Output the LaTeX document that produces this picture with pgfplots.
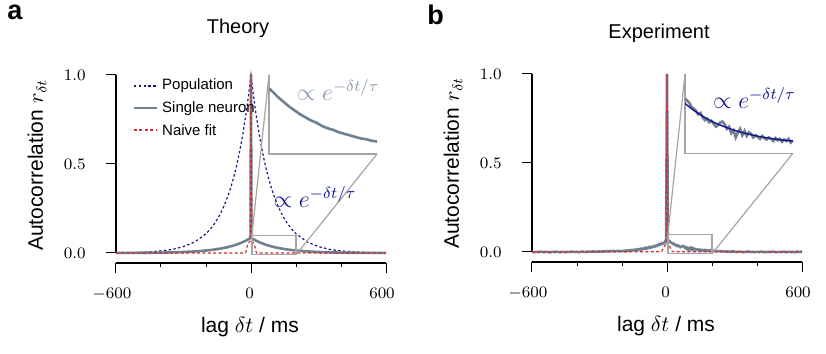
\documentclass[border=0pt]{standalone}
\usepackage{fontspec}
\setmainfont{Liberation Sans}
\usepackage{pgfplots}
\pgfplotsset{compat=1.18}
\usepackage{pgfplotstable}

\definecolor{popblue}{RGB}{20,20,140}
\definecolor{slate}{RGB}{112,128,144}
\definecolor{naivered}{RGB}{210,45,45}
\definecolor{boxgray}{RGB}{165,165,165}
\definecolor{lightslate}{RGB}{140,155,175}

% ---------- Panel a: theory ----------
\pgfplotstableread{
t v
-600 0.0013
-550 0.0022
-500 0.0039
-450 0.0067
-400 0.012
-350 0.020
-300 0.036
-250 0.062
-200 0.108
-180 0.135
-160 0.169
-140 0.211
-120 0.264
-100 0.329
-90 0.368
-80 0.411
-70 0.459
-60 0.513
-50 0.574
-40 0.641
-30 0.717
-20 0.801
-10 0.895
0 1.000
10 0.895
20 0.801
30 0.717
40 0.641
50 0.574
60 0.513
70 0.459
80 0.411
90 0.368
100 0.329
120 0.264
140 0.211
160 0.169
180 0.135
200 0.108
250 0.062
300 0.036
350 0.020
400 0.012
450 0.0067
500 0.0039
550 0.0022
600 0.0013
}\popA

\pgfplotstableread{
t v
-600 0.0004
-550 0.0006
-500 0.0009
-450 0.0014
-400 0.0022
-350 0.0035
-300 0.0056
-250 0.0088
-200 0.014
-190 0.015
-180 0.017
-170 0.018
-160 0.020
-150 0.022
-140 0.024
-130 0.026
-120 0.029
-110 0.031
-100 0.034
-90 0.038
-80 0.041
-70 0.045
-60 0.049
-50 0.054
-40 0.059
-30 0.065
-20 0.071
-10 0.078
-2 0.085
0 1.000
2 0.085
4 0.082
10 0.078
20 0.071
30 0.065
40 0.059
50 0.054
60 0.049
70 0.045
80 0.041
90 0.038
100 0.034
110 0.031
120 0.029
130 0.026
140 0.024
150 0.022
160 0.020
170 0.018
180 0.017
190 0.015
200 0.014
250 0.0088
300 0.0056
350 0.0035
400 0.0022
450 0.0014
500 0.0009
550 0.0006
600 0.0004
}\singA

\pgfplotstableread{
t v
-600 0
-24 0
-14 0.055
-4 0.065
0 1.000
4 0.065
14 0.055
24 0
600 0
}\naiveA

% ---------- Panel b: experiment ----------
\pgfplotstableread{
t v
-600 0.002
-590 -0.001
-580 0.001
-570 0.000
-560 0.002
-550 -0.001
-540 0.001
-530 0.000
-520 -0.002
-510 0.001
-500 0.000
-490 0.002
-480 -0.001
-470 0.000
-460 0.001
-450 -0.001
-440 0.001
-430 0.000
-420 0.002
-410 0.000
-400 0.001
-390 -0.001
-380 0.002
-370 0.001
-360 0.000
-350 0.002
-340 0.001
-330 0.003
-320 0.001
-310 0.002
-300 0.003
-290 0.002
-280 0.004
-270 0.003
-260 0.005
-250 0.004
-240 0.006
-230 0.004
-220 0.006
-210 0.005
-200 0.005
-196 0.006
-192 0.004
-188 0.007
-184 0.005
-180 0.008
-176 0.006
-172 0.009
-168 0.007
-164 0.010
-160 0.008
-156 0.011
-152 0.009
-148 0.012
-144 0.010
-140 0.013
-136 0.011
-132 0.015
-128 0.012
-124 0.016
-120 0.014
-116 0.018
-112 0.015
-108 0.019
-104 0.017
-100 0.021
-96 0.018
-92 0.024
-88 0.020
-84 0.022
-80 0.027
-76 0.024
-72 0.029
-68 0.026
-64 0.028
-60 0.033
-56 0.030
-52 0.032
-48 0.037
-44 0.034
-40 0.038
-36 0.044
-32 0.040
-28 0.043
-24 0.049
-20 0.046
-16 0.050
-12 0.052
-8 0.060
-4 0.057
0 1.000
4 0.066
8 0.063
12 0.060
16 0.054
20 0.052
24 0.049
28 0.044
32 0.046
36 0.040
40 0.036
44 0.038
48 0.033
52 0.035
56 0.031
60 0.027
64 0.029
68 0.033
72 0.034
76 0.030
80 0.024
84 0.027
88 0.018
92 0.022
96 0.012
100 0.019
104 0.024
108 0.015
112 0.021
116 0.014
120 0.019
124 0.017
128 0.012
132 0.015
136 0.013
140 0.010
144 0.014
148 0.011
152 0.009
156 0.012
160 0.010
164 0.007
168 0.011
172 0.008
176 0.010
180 0.006
184 0.009
188 0.007
192 0.010
196 0.005
200 0.008
210 0.006
220 0.004
230 0.005
240 0.003
250 0.004
260 0.002
270 0.003
280 0.001
290 0.003
300 0.002
310 0.000
320 0.002
330 0.001
340 -0.001
350 0.001
360 0.002
370 0.000
380 0.001
390 -0.001
400 0.001
410 0.000
420 0.002
430 0.000
440 -0.001
450 0.001
460 0.000
470 0.002
480 0.000
490 -0.001
500 0.001
510 0.000
520 0.002
530 -0.001
540 0.001
550 0.000
560 0.001
570 -0.001
580 0.002
590 0.000
600 0.003
}\singB

\pgfplotstableread{
t v
-600 0
-24 0.002
-12 0.030
-4 0.050
0 1.000
4 0.050
12 0.030
24 0.002
600 0
}\naiveB

\pgfplotstableread{
t v
4 0.0593
20 0.0497
40 0.0397
60 0.0318
80 0.0255
100 0.0204
120 0.0164
140 0.0131
160 0.0105
180 0.0084
200 0.0067
}\fitB

\newcommand{\ticksize}{\fontsize{8.4}{10}\selectfont}
\tikzset{
  spines/.style={line width=0.65pt, black},
  zoomline/.style={boxgray, line width=0.6pt},
  popstyle/.style={popblue, line width=0.6pt, dash pattern=on 1.2pt off 1.2pt},
  singstyle/.style={slate, line width=1.3pt},
  naivestyle/.style={naivered, line width=0.6pt, dash pattern=on 1.5pt off 1.2pt},
  ylab/.style={anchor=east, inner sep=0pt, font=\ticksize, xshift=-15pt},
  xlab/.style={anchor=north, inner sep=0pt, font=\ticksize, yshift=-12.3pt},
}
\pgfplotsset{
  panel/.style={
    scale only axis, width=135pt, height=94pt,
    xmin=-600, xmax=600, ymin=-0.0562, ymax=1,
    axis lines=left, axis line style={draw=none},
    tick align=outside,
    xtick={-600,0,600}, minor xtick={-400,-200,200,400},
    ytick={0,0.5,1},
    xticklabels={}, yticklabels={},
    major tick length=5pt, minor tick length=2.2pt,
    every tick/.append style={black, line width=0.5pt},
    every minor tick/.append style={black, line width=0.5pt},
    clip=false,
  },
  inset/.style={
    scale only axis, width=54pt, height=39.5pt,
    xmin=4, xmax=200, ymin=-0.01, ymax=0.1, hide axis,
  },
}

\begin{document}
\begin{tikzpicture}
\useasboundingbox (-58pt,-45.5pt) rectangle (355pt,131.5pt);

% ================= Panel a =================
\begin{axis}[panel, at={(0pt,0pt)}, anchor=south west]
\draw[spines] (axis cs:-600,0) -- (axis cs:-600,1);
\draw[spines] (rel axis cs:0,0) -- (rel axis cs:1,0);
\addplot[popstyle] table {\popA};
\addplot[singstyle] table {\singA};
\addplot[naivestyle] table {\naiveA};
\draw[zoomline] (axis cs:4,-0.01) rectangle (axis cs:200,0.1);
\draw[zoomline] (axis cs:4,0.1) -- (axis cs:80,1);
\draw[zoomline] (axis cs:200,-0.01) -- (axis cs:560,0.556);
\draw[zoomline] (axis cs:80,1) -- (axis cs:80,0.556) -- (axis cs:560,0.556);
\node[text=popblue, font=\fontsize{12}{12}\selectfont] at (axis cs:284,0.315) {$\propto e^{-\delta t/\tau}$};
\node[text=lightslate, font=\fontsize{12}{12}\selectfont] at (axis cs:387,0.915) {$\propto e^{-\delta t/\tau}$};
% tick labels
\node[ylab] at (axis cs:-600,0) {$0.0$};
\node[ylab] at (axis cs:-600,0.5) {$0.5$};
\node[ylab] at (axis cs:-600,1) {$1.0$};
\node[xlab, xshift=-2pt] at (rel axis cs:0,0) {$-600$};
\node[xlab, xshift=-0.7pt] at (rel axis cs:0.5,0) {$0$};
\node[xlab, xshift=-2pt] at (rel axis cs:1,0) {$600$};
\coordinate (Ains) at (axis cs:80,0.556);
\end{axis}
\begin{axis}[inset, ymin=-0.002, ymax=0.099, at={(Ains)}, anchor=south west]
\addplot[singstyle, restrict x to domain=4:200] table {\singA};
\end{axis}

% legend of panel a
\draw[popstyle, line width=0.7pt] (9pt,88.5pt) -- (20.4pt,88.5pt);
\draw[singstyle] (9pt,77.4pt) -- (20.4pt,77.4pt);
\draw[naivestyle, line width=0.7pt] (9pt,66.5pt) -- (20.4pt,66.5pt);
\begin{scope}[every node/.style={anchor=west, inner sep=0pt, font=\fontsize{7.5}{9}\selectfont}]
\node at (22.9pt,88.5pt) {Population};
\node at (22.9pt,77.4pt) {Single neuron};
\node at (22.9pt,66.5pt) {Naive fit};
\end{scope}

% ================= Panel b =================
\begin{axis}[panel, at={(208pt,0.5pt)}, anchor=south west]
\draw[spines] (axis cs:-600,0) -- (axis cs:-600,1);
\draw[spines] (rel axis cs:0,0) -- (rel axis cs:1,0);
\addplot[singstyle] table {\singB};
\addplot[naivestyle] table {\naiveB};
\draw[zoomline] (axis cs:4,-0.01) rectangle (axis cs:200,0.1);
\draw[zoomline] (axis cs:4,0.1) -- (axis cs:80,1);
\draw[zoomline] (axis cs:200,-0.01) -- (axis cs:560,0.555);
\draw[zoomline] (axis cs:80,1) -- (axis cs:80,0.555) -- (axis cs:560,0.555);
\node[text=popblue, font=\fontsize{12}{12}\selectfont] at (axis cs:388,0.866) {$\propto e^{-\delta t/\tau}$};
% tick labels
\node[ylab] at (axis cs:-600,0) {$0.0$};
\node[ylab] at (axis cs:-600,0.5) {$0.5$};
\node[ylab] at (axis cs:-600,1) {$1.0$};
\node[xlab, xshift=-2pt] at (rel axis cs:0,0) {$-600$};
\node[xlab, xshift=-0.7pt] at (rel axis cs:0.5,0) {$0$};
\node[xlab, xshift=-2pt] at (rel axis cs:1,0) {$600$};
\coordinate (Bins) at (axis cs:80,0.555);
\end{axis}
\begin{axis}[inset, at={(Bins)}, anchor=south west]
\addplot[singstyle, restrict x to domain=4:200] table {\singB};
\addplot[popblue, line width=0.7pt, smooth] table {\fitB};
\end{axis}

% ================= Labels =================
\node[anchor=base west, inner sep=0pt, font=\bfseries\fontsize{13.5}{14}\selectfont] at (-54.5pt,121.6pt) {a};
\node[anchor=base west, inner sep=0pt, font=\bfseries\fontsize{13.5}{14}\selectfont] at (155.5pt,119pt) {b};
\node[anchor=base, inner sep=0pt, font=\fontsize{10}{12}\selectfont] at (61pt,114.8pt) {Theory};
\node[anchor=base, inner sep=0pt, font=\fontsize{10}{12}\selectfont] at (271.5pt,112.3pt) {Experiment};
\node[rotate=90, inner sep=0pt, font=\fontsize{10.5}{12}\selectfont] at (-39.5pt,49pt) {Autocorrelation $r_{\delta t}$};
\node[rotate=90, inner sep=0pt, font=\fontsize{10.5}{12}\selectfont] at (168.5pt,50pt) {Autocorrelation $r_{\delta t}$};
\node[inner sep=0pt, font=\fontsize{10.5}{12}\selectfont] at (67pt,-32pt) {lag $\delta t$ / ms};
\node[inner sep=0pt, font=\fontsize{10.5}{12}\selectfont] at (275pt,-31.5pt) {lag $\delta t$ / ms};
\end{tikzpicture}
\end{document}
